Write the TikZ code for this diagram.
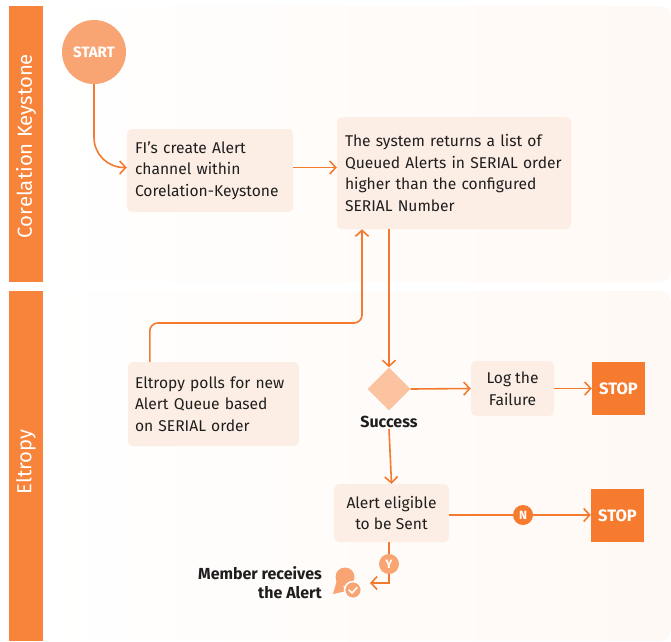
\documentclass[tikz,border=0pt]{standalone}
\usepackage{fontspec}
\setmainfont{Fira Sans}
\usetikzlibrary{arrows.meta,shapes.geometric,calc}
\definecolor{lanebar}{HTML}{F7843A}
\definecolor{stopc}{HTML}{F77B2E}
\definecolor{boxc}{HTML}{FDEEE5}
\definecolor{bgc}{HTML}{FFF9F5}
\definecolor{arrc}{HTML}{F47A30}
\definecolor{lightc}{HTML}{F8A573}
\definecolor{diac}{HTML}{FBC39F}
\definecolor{txt}{HTML}{1E1E1E}
\tikzset{
  stepbox/.style={rectangle, rounded corners=5pt, fill=boxc, text=txt, font=\fontsize{15.6}{21.5}\selectfont, inner sep=0pt},
  stopbox/.style={rectangle, fill=stopc, text=white, font=\bfseries\fontsize{16.5}{18}\selectfont, minimum width=53pt, minimum height=53pt, inner sep=0pt},
  conn/.style={draw=arrc, line width=1.6pt},
  arr/.style={conn, -{Straight Barb[length=6pt,width=13pt,line width=1.6pt]}},
  badge/.style={circle, minimum size=20pt, inner sep=0pt, text=white, font=\bfseries\fontsize{12}{12}\selectfont},
  lanelabel/.style={rotate=90, text=white, font=\fontsize{20.3}{24}\selectfont},
}
\begin{document}
\begin{tikzpicture}[x=1pt,y=-1pt]
\useasboundingbox (0,0) rectangle (671,641);
% lanes
\shade[left color=white, right color=bgc, middle color=bgc!60, rounded corners=10pt] (43,6) rectangle (671,282);
\shade[left color=white, right color=bgc, middle color=bgc!60, rounded corners=10pt] (43,291) rectangle (671,641);
\fill[lanebar] (9,6) rectangle (43,282);
\fill[lanebar] (9,291) rectangle (43,641);
\node[lanelabel] (laneA) at (26,146) {Corelation Keystone};
\node[lanelabel] (laneB) at (26,462) {Eltropy};

% nodes
\node[circle, fill=lightc, minimum size=64pt, inner sep=0pt, text=white, font=\bfseries\fontsize{15}{17}\selectfont] (start) at (94,52) {START};
\node[stepbox, minimum width=166pt, minimum height=83pt, text width=150pt, align=left] (box1) at (210,170.5) {FI’s create Alert\\channel within\\Corelation-Keystone};
\node[stepbox, minimum width=234pt, minimum height=112pt, text width=218pt, align=left] (box2) at (454,173) {The system returns a list of\\Queued Alerts in SERIAL order\\higher than the configured\\SERIAL Number};
\node[stepbox, minimum width=171pt, minimum height=84pt, text width=157pt, align=left] (elt) at (213.5,404) {Eltropy polls for new\\Alert Queue based\\on SERIAL order};
\node[diamond, aspect=1, fill=diac, minimum width=43pt, minimum height=43pt, inner sep=0pt] (dia) at (389,389) {};
\node[text=txt, font=\bfseries\fontsize{16}{18}\selectfont, inner sep=1pt] (succ) at (389,422) {Success};
\node[stepbox, minimum width=83pt, minimum height=55pt, align=center] (log) at (512.5,388.5) {Log the\\Failure};
\node[stopbox] (stop1) at (618.5,388.5) {STOP};
\node[stepbox, minimum width=115pt, minimum height=58pt, align=center] (alert) at (391.5,513) {Alert eligible\\to be Sent};
\node[stopbox] (stop2) at (617.5,515.5) {STOP};
\node[badge, fill=stopc] (nb) at (523,515) {N};
\node[badge, fill=lightc] (yb) at (389,564) {Y};
\coordinate (mtip) at (370,583);
\node[text=txt, font=\bfseries\fontsize{16}{19}\selectfont, align=right, anchor=east, inner sep=0pt] (member) at (322,582.5) {Member receives\\the Alert};

% icon
\fill[lightc] (345,577) circle (9.5);
\fill[lightc] (337,580) -- (333,594) -- (347,591) -- cycle;
\fill[lightc, draw=white, line width=1.6pt] (353,590) circle (8.5);
\draw[white, line width=1.6pt, line cap=round, line join=round] (349,590) -- (352,593) -- (357,587.5);

% connectors
\draw[arr, rounded corners=30pt] (start.south) |- ([yshift=3pt]box1.west);
\draw[arr] ([yshift=3pt]box1.east) -- ([yshift=3pt]box1.east -| box2.west);
\draw[arr] (box2.south -| dia.north) -- (dia.north);
\draw[arr] (dia.east) -- (log.west);
\draw[arr] (log.east) -- (stop1.west);
\coordinate (bend) at (362,323);
\draw[arr, rounded corners=8pt] ([xshift=22pt]elt.north west) |- (bend) -- (box2.south -| bend);
\draw[arr] (succ.south) -- (alert.north);
\draw[conn] (alert.east |- nb) -- (nb);
\draw[arr] (nb) -- (stop2.west |- nb);
\draw[conn] (alert.south -| yb) -- (yb);
\draw[arr] (yb) |- (mtip);
\end{tikzpicture}
\end{document}
